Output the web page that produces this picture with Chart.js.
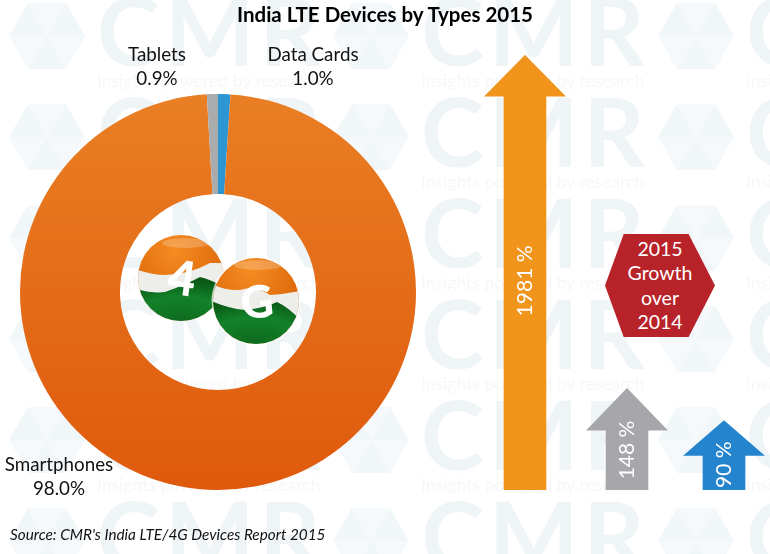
<!DOCTYPE html>
<html>
<head>
<meta charset="utf-8">
<title>India LTE Devices by Types 2015</title>
<script src="https://cdn.jsdelivr.net/npm/chart.js@4"></script>
<style>
  html, body { margin: 0; padding: 0; background: #fff; }
  #page { position: relative; width: 770px; height: 554px; overflow: hidden; font-family: Lato, "Open Sans", sans-serif; color: #111; }
  #page > * { position: absolute; }
  #watermark { left: 0; top: 0; }
  #donut-wrap { left: 20px; top: 94px; width: 396px; height: 396px; }
  #arrow-wrap { left: 474px; top: 55px; width: 306px; height: 435px; }
  #title { left: 0; width: 770px; top: 1px; text-align: center; font-size: 20.5px; font-weight: 700; color: #000; line-height: 26px; }
  #source { left: 10px; top: 522px; font-size: 15.3px; font-style: italic; line-height: 24px; white-space: nowrap; }
  .slice-label { text-align: center; font-size: 18.8px; line-height: 24px; transform: translateX(-50%); white-space: nowrap; }
  #hexagon { left: 605px; top: 234px; width: 110px; height: 103px; background: #b8232a; color: #fff;
    clip-path: polygon(17% 0, 76% 0, 100% 50%, 76% 100%, 17% 100%, 0 50%);
    text-align: center; font-size: 19.5px; line-height: 24.4px; box-sizing: border-box; padding-top: 3px; }
  #balls { left: 120px; top: 225px; }
</style>
</head>
<body>
<div id="page">
  <canvas id="watermark" width="770" height="554"></canvas>
  <div id="title">India LTE Devices by Types 2015</div>
  <div id="donut-wrap"><canvas id="chart-donut" width="396" height="396"></canvas></div>
  <div id="arrow-wrap"><canvas id="chart-arrows" width="306" height="435"></canvas></div>
  <div id="hexagon">2015<br>Growth<br>over<br>2014</div>
  <svg id="balls" width="190" height="130" viewBox="120 225 190 130">
    <defs>
      <radialGradient id="orangeFill" cx="45%" cy="20%" r="70%">
        <stop offset="0" stop-color="#f58d22"/><stop offset="1" stop-color="#d65c02"/>
      </radialGradient>
      <radialGradient id="greenFill" cx="50%" cy="85%" r="80%">
        <stop offset="0" stop-color="#0d6a1d"/><stop offset="0.6" stop-color="#13822a"/><stop offset="1" stop-color="#0a5a16"/>
      </radialGradient>
      <clipPath id="ballOne"><circle cx="181" cy="278" r="43"/></clipPath>
      <clipPath id="ballTwo"><circle cx="256" cy="301" r="43"/></clipPath>
    </defs>
    <g clip-path="url(#ballOne)">
      <rect x="130" y="230" width="100" height="100" fill="url(#orangeFill)"/>
      <path d="M130 267 Q150 275 165 275 Q190 274 210 263 L230 263 L230 330 L130 330 Z" fill="#ededea"/>
      <path d="M130 287 Q150 294 165 292 Q185 285 200 277 Q210 279 230 290 L230 330 L130 330 Z" fill="url(#greenFill)"/>
      <ellipse cx="186" cy="243" rx="24" ry="5" fill="#fff" opacity="0.22"/>
    </g>
    <circle cx="256" cy="301" r="44.5" fill="#fff" opacity="0.7"/>
    <g clip-path="url(#ballTwo)">
      <rect x="205" y="250" width="100" height="100" fill="url(#orangeFill)"/>
      <path d="M210 283 Q225 291 240 290 Q255 285 270 295 Q285 294 305 290 L305 350 L205 350 Z" fill="#ededea"/>
      <path d="M205 298 Q225 308 245 310 Q265 308 277 302 Q290 308 305 325 L305 350 L205 350 Z" fill="url(#greenFill)"/>
      <ellipse cx="258" cy="265" rx="24" ry="5" fill="#fff" opacity="0.22"/>
    </g>
    <text x="182" y="295" text-anchor="middle" font-family="Lato" font-weight="900" font-size="48" fill="#fff" transform="rotate(8 182 277)">4</text>
    <text x="257" y="318" text-anchor="middle" font-family="Lato" font-weight="900" font-size="45" fill="#fff" transform="rotate(-6 257 302)">G</text>
  </svg>
  <div id="source">Source: CMR's India LTE/4G Devices Report 2015</div>
</div>

<script>
// --- Data ---
const deviceTypes = ['Data Cards', 'Smartphones', 'Tablets'];
const deviceShares = [1.0, 98.0, 0.9];
const growthLabels = ['1981 %', '148 %', '90 %'];
// the arrows in the picture are not to scale with the growth figures,
// so these are their shaft heights read off as % of the tallest arrow
const shaftHeights = [90.6, 13.8, 8.0];

// --- Styles ---
const sliceColors = ['#2d97d3', null, '#a9abad'];
const arrowColors = ['#f0941c', '#a6a6ab', '#2484cd'];
const labelSpots = { 'Data Cards': [313, 42], 'Smartphones': [59, 452], 'Tablets': [157, 42] };
const headHeights = [41, 42, 35];
const labelLifts = [12, 10, 8];
const arrowNudges = [0, 0, -5];

// --- Watermark ---
function drawWatermark() {
  const ctx = document.getElementById('watermark').getContext('2d');
  const columns = [-227, 97, 421, 746];
  const rows = [66, 167, 268, 369, 470, 571];

  rows.forEach(baseY => {
    columns.forEach(x => {
      ctx.fillStyle = '#eff4f7';
      ctx.font = '700 95px Lato';
      ctx.letterSpacing = '5px';
      ctx.fillText('CMR', x, baseY);
      ctx.fillStyle = '#f6f7f9';
      ctx.font = '17.5px Lato';
      ctx.letterSpacing = '0px';
      ctx.fillText('Insights powered by research', x, baseY + 21);
      drawHexLogo(ctx, x - 50, baseY - 30);
    });
  });
}

function drawHexLogo(ctx, cx, cy) {
  const r = 38;
  for (let i = 0; i < 6; i++) {
    const a = i * Math.PI / 3;
    const b = a + Math.PI / 3;
    ctx.beginPath();
    ctx.moveTo(cx, cy);
    ctx.lineTo(cx + r * Math.cos(a), cy + r * Math.sin(a));
    ctx.lineTo(cx + r * Math.cos(b), cy + r * Math.sin(b));
    ctx.closePath();
    ctx.fillStyle = i % 2 ? '#f1f7f9' : '#f5f9fb';
    ctx.fill();
  }
}

// --- Chart 1: device share doughnut ---
function renderDonut() {
  const canvas = document.getElementById('chart-donut');
  const ctx = canvas.getContext('2d');
  const orange = ctx.createLinearGradient(0, 0, 0, 396);
  orange.addColorStop(0, '#e97f24');
  orange.addColorStop(1, '#df590c');

  new Chart(ctx, {
    type: 'doughnut',
    data: {
      labels: deviceTypes,
      datasets: [{
        data: deviceShares,
        backgroundColor: sliceColors.map(c => c || orange),
        borderWidth: 0,
      }],
    },
    options: {
      responsive: false,
      animation: false,
      cutout: '49.5%',
      layout: { padding: 0 },
      plugins: { legend: { display: false }, tooltip: { enabled: false } },
    },
  });

  // slice labels
  const page = document.getElementById('page');
  deviceTypes.forEach((name, i) => {
    const el = document.createElement('div');
    el.className = 'slice-label';
    el.style.left = `${labelSpots[name][0]}px`;
    el.style.top = `${labelSpots[name][1]}px`;
    el.innerHTML = `${name}<br>${deviceShares[i].toFixed(1)}%`;
    page.appendChild(el);
  });
}

// --- Chart 2: growth arrows (bar shafts + heads from the bar elements) ---
const arrowHeads = {
  id: 'arrowHeads',
  afterDatasetsUpdate(chart) {
    chart.getDatasetMeta(0).data.forEach((bar, i) => { bar.x += arrowNudges[i]; });
  },
  afterDatasetsDraw(chart) {
    const { ctx } = chart;
    chart.getDatasetMeta(0).data.forEach((bar, i) => {
      const half = 41;
      ctx.save();
      ctx.fillStyle = arrowColors[i];
      ctx.beginPath();
      ctx.moveTo(bar.x - half, bar.y + 0.5);
      ctx.lineTo(bar.x, bar.y - headHeights[i]);
      ctx.lineTo(bar.x + half, bar.y + 0.5);
      ctx.closePath();
      ctx.fill();

      ctx.translate(bar.x, (bar.y + bar.base) / 2 - labelLifts[i]);
      ctx.rotate(-Math.PI / 2);
      ctx.fillStyle = '#fff';
      ctx.font = '21px Lato';
      ctx.textAlign = 'center';
      ctx.textBaseline = 'middle';
      ctx.fillText(growthLabels[i], 0, 0);
      ctx.restore();
    });
  },
};

function renderArrows() {
  const ctx = document.getElementById('chart-arrows').getContext('2d');
  new Chart(ctx, {
    type: 'bar',
    data: {
      labels: ['Smartphones', 'Tablets', 'Data Cards'],
      datasets: [{
        data: shaftHeights,
        backgroundColor: arrowColors,
        barThickness: 42,
        borderWidth: 0,
      }],
    },
    options: {
      responsive: false,
      animation: false,
      layout: { padding: 0 },
      plugins: { legend: { display: false }, tooltip: { enabled: false } },
      scales: {
        x: { display: false },
        y: { display: false, min: 0, max: 100 },
      },
    },
    plugins: [arrowHeads],
  });
}

// --- Boot ---
drawWatermark();
renderDonut();
renderArrows();
</script>
</body>
</html>
